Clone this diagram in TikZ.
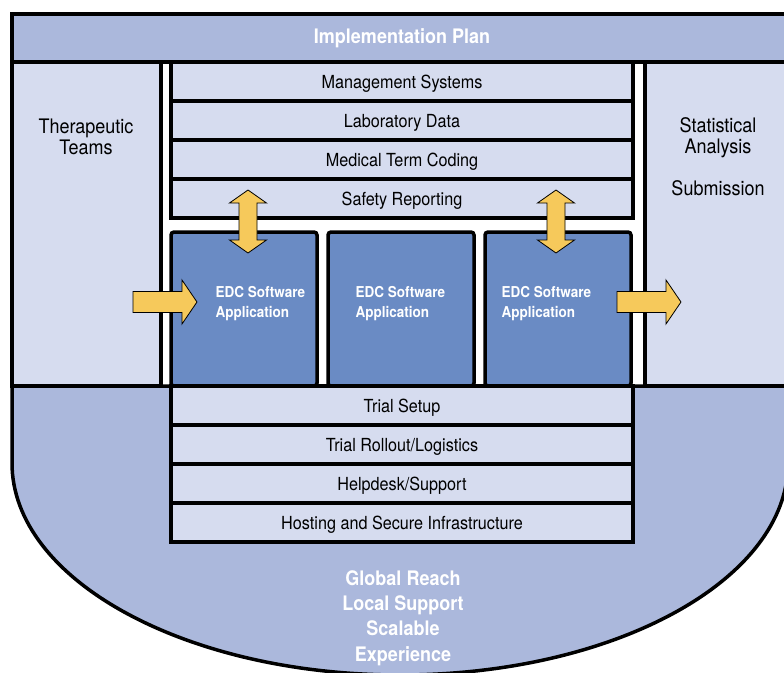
\documentclass[tikz,border=0pt]{standalone}
\usepackage{fontspec}
\setmainfont[FakeStretch=0.9]{TeX Gyre Heros}
\usetikzlibrary{positioning}
\definecolor{bandblue}{HTML}{ABB8DC}
\definecolor{paleblue}{HTML}{D6DCEF}
\definecolor{edcblue}{HTML}{6A8BC4}
\definecolor{arrowyellow}{HTML}{F6C95B}

\begin{document}
\begin{tikzpicture}[x=1pt, y=-1pt,
  boxline/.style={draw, line width=3.5pt, outer sep=0pt, inner sep=0pt},
  panel/.style={boxline, fill=paleblue},
  row/.style={panel, minimum width=462pt, minimum height=39pt, text height=13pt, text depth=0pt, font=\fontsize{18}{20}\selectfont},
  edc/.style={boxline, fill=edcblue, rounded corners=3pt, minimum width=146pt, minimum height=154pt},
  edclabel/.style={anchor=west, align=left, text=white, font=\bfseries\fontsize{15}{20}\selectfont},
  sidetext/.style={align=center, font=\fontsize{20}{21}\selectfont},
  whitetext/.style={align=center, text=white, font=\bfseries\fontsize{20}{25.3}\selectfont},
  yarrow/.style={draw=black, line width=0.8pt, fill=arrowyellow},
  dblarrow/.pic={\draw[yarrow] (0,-31.5) -- (18.5,-18.5) -- (9,-18.5) -- (9,18.5) -- (18.5,18.5) -- (0,31.5) -- (-18.5,18.5) -- (-9,18.5) -- (-9,-18.5) -- (-18.5,-18.5) -- cycle;},
  rarrow/.pic={\draw[yarrow] (0,-10.5) -- (49,-10.5) -- (49,-22) -- (64,0) -- (49,22) -- (49,10.5) -- (0,10.5) -- cycle;}]

  \useasboundingbox (0,0) rectangle (784,672);
  \clip (0,0) rectangle (784,672);

  \draw[boxline, fill=bandblue] (12,386) -- (12,463) .. controls (12,580) and (186,675) .. (400,675)
	.. controls (614,675) and (788,580) .. (788,463) -- (788,386) -- cycle;

  \node[panel, fill=bandblue, minimum width=776pt, minimum height=48pt] (plan) at (400,38) {};
  \node[whitetext] (plantext) at (402,38) {Implementation Plan};

  \node[panel, minimum width=149pt, minimum height=324pt] (thera) at (86.5,224) {};
  \node[sidetext] (theratext) at (86,137) {Therapeutic\\Teams};
  \node[panel, minimum width=143pt, minimum height=324pt] (stats) at (716.5,224) {};
  \node[sidetext] (statstext) at (718,157) {Statistical\\Analysis\\[21pt]Submission};

  \node[row] (mgmt) at (402,81.5) {Management Systems};
  \node[row, below=0pt of mgmt] (lab) {Laboratory Data};
  \node[row, below=0pt of lab] (coding) {Medical Term Coding};
  \node[row, below=0pt of coding] (safety) {Safety Reporting};

  \node[edc] (edc1) at (244,309) {};
  \node[edc, right=11pt of edc1] (edc2) {};
  \node[edc, right=11pt of edc2] (edc3) {};
  \node[edclabel] (edc1text) at (212,304) {EDC Software\\Application};
  \node[edclabel] (edc2text) at (352,304) {EDC Software\\Application};
  \node[edclabel] (edc3text) at (498,304) {EDC Software\\Application};

  \node[row] (setup) at (402,405.5) {Trial Setup};
  \node[row, below=0pt of setup] (rollout) {Trial Rollout/Logistics};
  \node[row, below=0pt of rollout] (helpdesk) {Helpdesk/Support};
  \node[row, below=0pt of helpdesk] (hosting) {Hosting and Secure Infrastructure};

  \node[whitetext] (reach) at (403,618) {Global Reach\\Local Support\\Scalable\\Experience};

  \pic at (248,221.5) {dblarrow};
  \pic at (556,221.5) {dblarrow};
  \pic at (133,302) {rarrow};
  \pic at (617,302) {rarrow};
\end{tikzpicture}
\end{document}
